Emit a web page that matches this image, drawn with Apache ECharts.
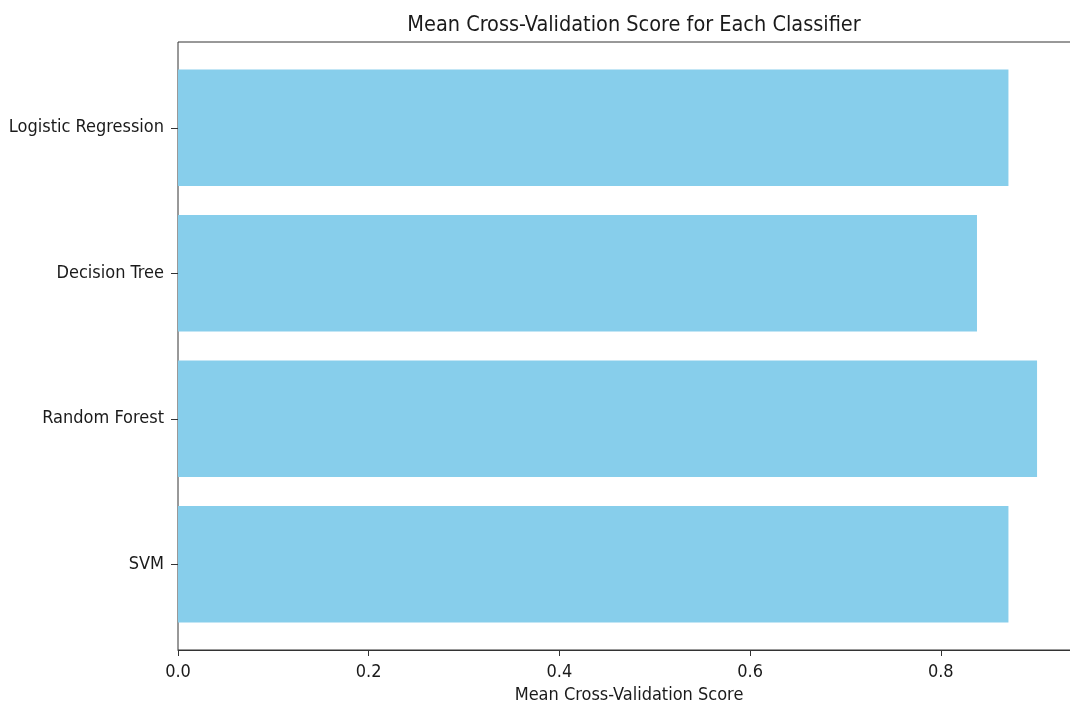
<!DOCTYPE html>
<html><head><meta charset="utf-8">
<script src="https://cdn.jsdelivr.net/npm/echarts@6/dist/echarts.min.js"></script>
<style>html,body{margin:0;padding:0;background:#fff;overflow:hidden;width:1070px;height:707px}#c{width:1090px;height:707px}</style>
</head><body><div id="c"></div>
<script>
const categories = ['Logistic Regression', 'Decision Tree', 'Random Forest', 'SVM'];
const scores = [0.871, 0.838, 0.901, 0.871];
const xTicks = [0, 0.2, 0.4, 0.6, 0.8];
const xMax = Math.max(...scores) * 1.05;

const chart = echarts.init(document.getElementById('c'), null, {renderer: 'canvas'});
const font = "'DejaVu Sans Condensed', 'DejaVu Sans'";
const txt = '#1a1a1a';
chart.setOption({
  animation: false,
  title: {
    text: 'Mean Cross-Validation Score for Each Classifier',
    left: 629, top: 9, textAlign: 'center',
    textStyle: {fontFamily: font, fontSize: 21.5, fontWeight: 'normal', color: txt}
  },
  grid: [
    {left: 178, right: 10, top: 55, height: 582, outerBoundsMode: 'none', containLabel: false},
    {left: 178, right: 10, top: 42, height: 608, outerBoundsMode: 'none', containLabel: false,
     show: true, borderColor: '#333', borderWidth: 1, backgroundColor: 'transparent'}
  ],
  xAxis: [
    {gridIndex: 0, type: 'value', min: 0, max: xMax, show: false},
    {gridIndex: 1, type: 'value', min: 0, max: xMax, interval: 0.2, position: 'bottom',
     name: 'Mean Cross-Validation Score', nameLocation: 'middle', nameGap: 36,
     nameTextStyle: {fontFamily: font, fontSize: 18, color: txt},
     axisLine: {show: true, onZero: false, lineStyle: {color: '#333'}},
     axisTick: {show: true, length: 6, lineStyle: {color: '#333'}},
     splitLine: {show: false},
     axisLabel: {fontFamily: font, fontSize: 18, color: txt, margin: 13,
       showMaxLabel: false,
       formatter: v => xTicks.some(t => Math.abs(t - v) < 1e-9) ? v.toFixed(1) : ''}
    }
  ],
  yAxis: [
    {gridIndex: 0, type: 'category', data: categories, inverse: true,
     axisLine: {show: false},
     axisTick: {show: true, alignWithLabel: true, length: 7, lineStyle: {color: '#333'}},
     axisLabel: {fontFamily: font, fontSize: 18, color: txt, margin: 14}
    },
    {gridIndex: 1, type: 'value', min: 0, max: 1, show: false}
  ],
  series: [{
    type: 'bar', xAxisIndex: 0, yAxisIndex: 0,
    data: scores, barCategoryGap: '20%',
    itemStyle: {color: '#87CEEB'}
  }]
});
</script></body></html>
